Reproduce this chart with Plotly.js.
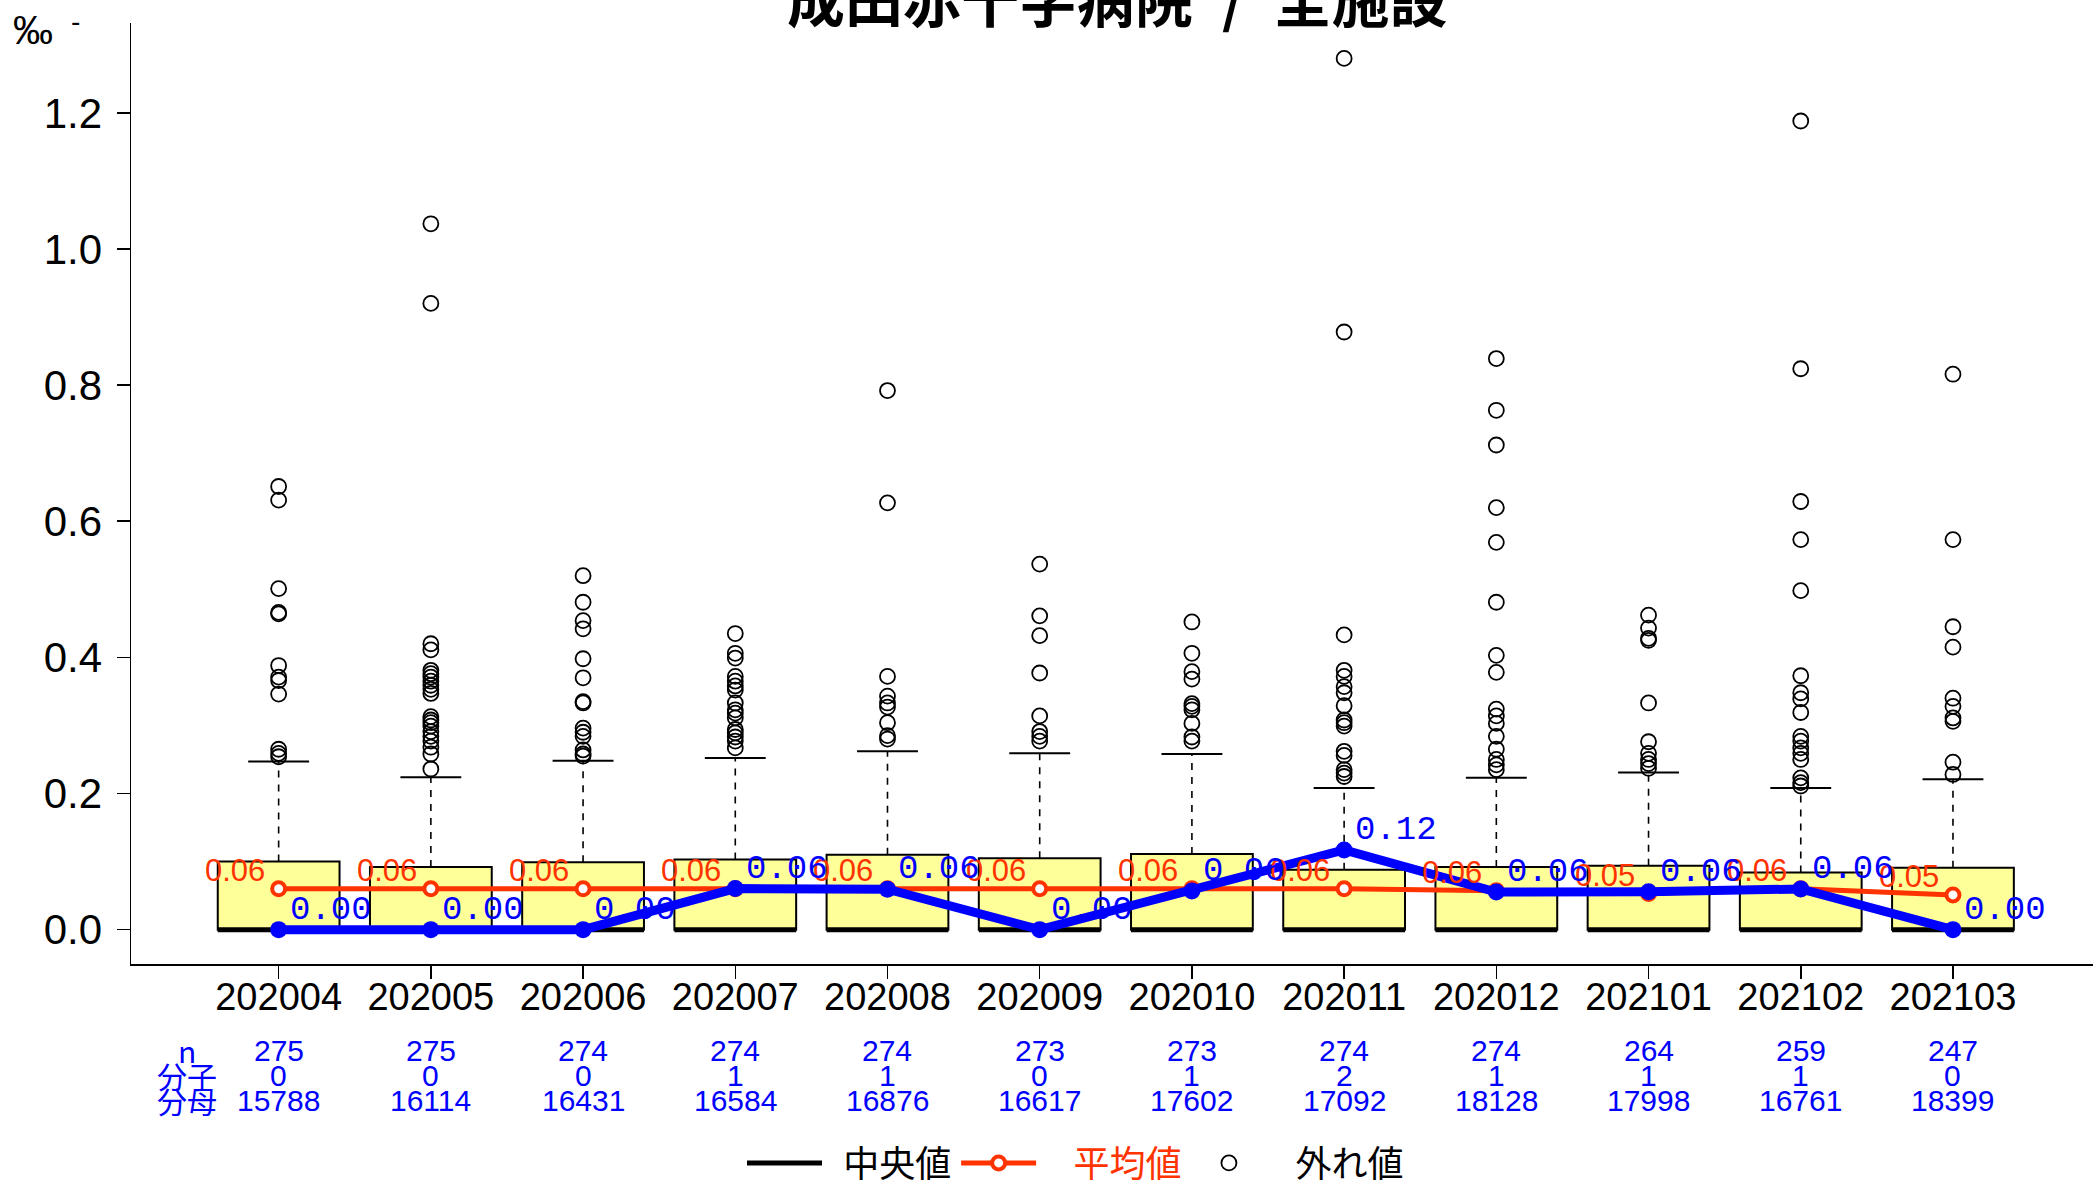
<!DOCTYPE html>
<html>
<head>
<meta charset="utf-8">
<script src="https://cdn.plot.ly/plotly-3.0.1.min.js"></script>
<style>
html,body{margin:0;padding:0;background:#fff;}
#chart{width:2093px;height:1184px;}
</style>
</head>
<body>
<div id="chart"></div>
<script>
// ---- data ----
const months = ['202004','202005','202006','202007','202008','202009','202010','202011','202012','202101','202102','202103'];
const q1Values = [0,0,0,0,0,0,0,0,0,0,0,0];
const medianValues = [0,0,0,0,0,0,0,0,0,0,0,0];
const q3Values = [0.100,0.092,0.099,0.103,0.110,0.105,0.111,0.088,0.092,0.094,0.084,0.091];
const upperWhisker = [0.247,0.224,0.248,0.252,0.262,0.259,0.258,0.208,0.223,0.231,0.208,0.221];
const meanValues = [0.060,0.060,0.060,0.060,0.060,0.060,0.060,0.060,0.057,0.053,0.060,0.051];
const hospitalValues = [0.000,0.000,0.000,0.0603,0.0593,0.000,0.0568,0.117,0.0552,0.0556,0.0597,0.000];
const nValues = [275,275,274,274,274,273,273,274,274,264,259,247];
const numerValues = [0,0,0,1,1,0,1,2,1,1,1,0];
const denomValues = [15788,16114,16431,16584,16876,16617,17602,17092,18128,17998,16761,18399];
const rowLabels = ['n','分子','分母'];
const legendNames = ['中央値','平均値','外れ値'];
const titleText = '成田赤十字病院\u2002/\u2002全施設';
const unitLabel = '‰';

const outliers202004 = [0.651,0.631,0.501,0.466,0.464,0.388,0.371,0.366,0.346,0.265,0.259,0.254];
const outliers202005 = [1.037,0.920,0.420,0.411,0.381,0.376,0.371,0.365,0.359,0.353,0.347,0.313,0.308,0.304,0.299,0.291,0.284,0.277,0.268,0.258,0.236];
const outliers202006 = [0.520,0.481,0.454,0.442,0.398,0.370,0.335,0.333,0.296,0.290,0.284,0.264,0.258,0.255];
const outliers202007 = [0.435,0.406,0.399,0.372,0.365,0.358,0.352,0.333,0.323,0.318,0.311,0.294,0.289,0.283,0.277,0.267];
const outliers202008 = [0.792,0.627,0.372,0.343,0.333,0.327,0.304,0.285,0.280];
const outliers202009 = [0.537,0.461,0.432,0.377,0.314,0.291,0.284,0.277];
const outliers202010 = [0.452,0.406,0.379,0.368,0.332,0.328,0.323,0.303,0.283,0.277];
const outliers202011 = [1.280,0.878,0.433,0.381,0.372,0.357,0.348,0.329,0.308,0.304,0.299,0.262,0.256,0.235,0.230,0.225];
const outliers202012 = [0.839,0.763,0.712,0.620,0.569,0.481,0.403,0.378,0.324,0.314,0.303,0.284,0.265,0.250,0.242,0.235];
const outliers202101 = [0.462,0.443,0.428,0.425,0.333,0.276,0.259,0.250,0.244,0.237];
const outliers202102 = [1.188,0.824,0.629,0.573,0.498,0.373,0.348,0.339,0.319,0.284,0.277,0.267,0.259,0.250,0.223,0.216,0.211];
const outliers202103 = [0.816,0.573,0.445,0.415,0.340,0.328,0.311,0.306,0.246,0.228];

// ---- styles ----
const RED = '#FF3300';
const BLUE = '#0000FF';
const BOXFILL = '#FFFF99';
const BOXW = 0.8;
const CAPW = 0.4;
const SANS = 'Liberation Sans, Arial, sans-serif';
const MONO = 'Liberation Mono, DejaVu Sans Mono, monospace';
const CJK = 'Noto Sans CJK JP, Liberation Sans, sans-serif';
const NB = '\u00A0';

const outlierSets = [outliers202004,outliers202005,outliers202006,outliers202007,outliers202008,outliers202009,
  outliers202010,outliers202011,outliers202012,outliers202101,outliers202102,outliers202103];
const idx = months.map((m,i)=>i);

// whiskers, caps, medians
const wx=[],wy=[],cx=[],cy=[],mx=[],my=[];
idx.forEach(i=>{
  wx.push(i,i,null); wy.push(q3Values[i],upperWhisker[i],null);
  cx.push(i-CAPW/2,i+CAPW/2,null); cy.push(upperWhisker[i],upperWhisker[i],null);
  mx.push(i-BOXW/2,i+BOXW/2,null); my.push(medianValues[i],medianValues[i],null);
});
const ox=[],oy=[];
outlierSets.forEach((arr,i)=>arr.forEach(v=>{ox.push(i);oy.push(v);}));

const traces = [
  {type:'bar', x:idx, y:q3Values.map((v,i)=>v-q1Values[i]), base:q1Values, width:BOXW,
   marker:{color:BOXFILL, line:{color:'#000', width:2}}, showlegend:false, hoverinfo:'skip'},
  {type:'scatter', mode:'lines', x:wx, y:wy, line:{color:'#000', width:1.6, dash:'7px,7px'},
   showlegend:false, hoverinfo:'skip'},
  {type:'scatter', mode:'lines', x:cx, y:cy, line:{color:'#000', width:2},
   showlegend:false, hoverinfo:'skip'},
  {type:'scatter', mode:'lines', x:mx, y:my, line:{color:'#000', width:5},
   name:NB+NB+legendNames[0], showlegend:true},
  {type:'scatter', mode:'lines+markers', x:idx, y:meanValues,
   line:{color:RED, width:5},
   marker:{symbol:'circle', size:13, color:'#fff', line:{color:RED, width:4}},
   name:NB+NB+NB+NB+'<span style="color:'+RED+'">'+legendNames[1]+'</span>', showlegend:true},
  {type:'scatter', mode:'markers', x:ox, y:oy,
   marker:{symbol:'circle-open', size:15, color:'#000', line:{color:'#000', width:1.8}},
   name:NB+NB+NB+legendNames[2], showlegend:true},
  {type:'scatter', mode:'lines+markers', x:idx, y:hospitalValues,
   line:{color:BLUE, width:9}, marker:{symbol:'circle', size:17, color:BLUE},
   showlegend:false, hoverinfo:'skip'}
];

const plotBottom = 964, plotH = 941;
const py = p => (plotBottom - p)/plotH;

const annotations = [];
idx.forEach(i=>{
  annotations.push({x:i, y:meanValues[i], xref:'x', yref:'y', text:meanValues[i].toFixed(2),
    xanchor:'right', yanchor:'bottom', xshift:-12, yshift:-1, showarrow:false,
    font:{family:SANS, size:31, color:RED}});
});
idx.forEach(i=>{
  annotations.push({x:i, y:hospitalValues[i], xref:'x', yref:'y', text:hospitalValues[i].toFixed(2),
    xanchor:'left', yanchor:'bottom', xshift:9, yshift:-1, showarrow:false,
    font:{family:MONO, size:34, color:BLUE}});
});
const rowsY = [1050,1075,1100];
const rowData = [nValues, numerValues, denomValues];
rowData.forEach((arr,r)=>{
  arr.forEach((v,i)=>{
    annotations.push({x:i, y:py(rowsY[r]), xref:'x', yref:'paper', text:String(v),
      xanchor:'center', yanchor:'middle', showarrow:false,
      font:{family:SANS, size:30, color:BLUE}});
  });
  annotations.push({x:-0.6, y:py(rowsY[r]), xref:'x', yref:'paper', text:rowLabels[r],
    xanchor:'center', yanchor:'middle', showarrow:false,
    font:{family:CJK, size:30, color:BLUE}});
});
annotations.push({x:(1117-131)/1962, y:1, xref:'paper', yref:'paper', text:titleText,
  xanchor:'center', yanchor:'middle', yshift:26, showarrow:false,
  font:{family:CJK, size:58, color:'#000', weight:'bold'}});
annotations.push({x:(11-131)/1962, y:py(30), xref:'paper', yref:'paper', text:unitLabel,
  xanchor:'left', yanchor:'middle', showarrow:false,
  font:{family:SANS, size:40, color:'#000'}});
annotations.push({x:(69-131)/1962, y:py(21), xref:'paper', yref:'paper', text:'-',
  xanchor:'left', yanchor:'middle', showarrow:false,
  font:{family:SANS, size:28, color:'#000'}});

const layout = {
  width:2093, height:1184,
  margin:{l:131, r:0, t:23, b:220, pad:0, autoexpand:false},
  paper_bgcolor:'#fff', plot_bgcolor:'#fff',
  showlegend:true,
  legend:{orientation:'h', x:(742-131)/1962, xanchor:'left', y:py(1163), yanchor:'middle',
    font:{family:CJK, size:36, color:'#000'}, bgcolor:'rgba(0,0,0,0)', itemwidth:75,
    traceorder:'normal'},
  xaxis:{type:'linear', range:[-0.97, 11.92], tickvals:idx, ticktext:months,
    ticks:'outside', ticklen:13, tickwidth:1.5, tickcolor:'#000',
    showline:true, linewidth:2.2, linecolor:'#000', showgrid:false, zeroline:false,
    ticklabelstandoff:-15, automargin:false,
    tickfont:{family:SANS, size:38, color:'#000'}, fixedrange:true},
  yaxis:{range:[-0.0505, 1.332], tickvals:[0,0.2,0.4,0.6,0.8,1.0,1.2], tickformat:'.1f',
    ticks:'outside', ticklen:13, tickwidth:1.5, tickcolor:'#000',
    showline:true, linewidth:1.5, linecolor:'#000', showgrid:false, zeroline:false,
    ticklabelstandoff:6, automargin:false,
    tickfont:{family:SANS, size:42, color:'#000'}, fixedrange:true},
  annotations:annotations,
  bargap:0
};

Plotly.newPlot('chart', traces, layout, {displayModeBar:false, staticPlot:true});
</script>
</body>
</html>
